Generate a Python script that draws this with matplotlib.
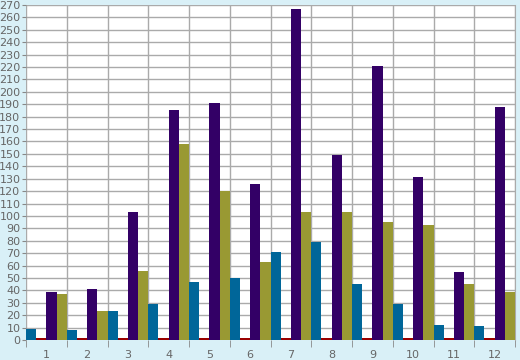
import matplotlib
matplotlib.use("Agg")
import matplotlib.pyplot as plt
import numpy as np

categories = ["1", "2", "3", "4", "5", "6", "7", "8", "9", "10", "11", "12"]
blue_vals = [9, 8, 23, 29, 47, 50, 71, 79, 45, 29, 12, 11]
red_vals = [1.5, 1.5, 1.5, 1.5, 1.5, 1.5, 1.5, 1.5, 1.5, 1.5, 1.5, 1.5]
purple_vals = [39, 41, 103, 185, 191, 126, 267, 149, 221, 131, 55, 188]
olive_vals = [37, 23, 56, 158, 120, 63, 103, 103, 95, 93, 45, 39]

bg = "#d9f0f7"
fig = plt.figure(figsize=(5.2, 3.6), dpi=100, facecolor=bg)
ax = fig.add_axes([26/520, 20/360, 489/520, 335/360])
ax.set_facecolor("white")

x = np.arange(1, len(categories) + 1)
w = 0.25
series = [(blue_vals, "#006699"), (red_vals, "#990000"),
          (purple_vals, "#330066"), (olive_vals, "#999933")]
for k, (vals, col) in enumerate(series):
    ax.bar(x + (k - 1.5) * w, vals, width=w, color=col, zorder=3, linewidth=0)

ax.set_xlim(0.5, len(categories) + 0.5)
ax.set_ylim(0, 270)
ax.set_yticks(np.arange(0, 271, 10))
ax.set_xticks(x)
ax.set_xticklabels(categories)
ax.set_xticks(np.arange(0.5, len(categories) + 1, 1), minor=True)

ax.grid(True, which="major", axis="y", color="#aaaaaa", linewidth=1, zorder=0)
ax.grid(True, which="minor", axis="x", color="#aaaaaa", linewidth=1, zorder=0)
ax.grid(False, which="major", axis="x")

for s in ["top", "left", "bottom"]:
    ax.spines[s].set_visible(False)
ax.spines["right"].set_color("#aaaaaa")

ax.tick_params(axis="y", which="major", length=3, color="#888888", labelcolor="#666666",
               labelsize=8, pad=1)
ax.tick_params(axis="x", which="major", length=0, labelcolor="#666666", labelsize=8, pad=7)
ax.tick_params(axis="x", which="minor", length=5, color="#888888", direction="out")

fig.savefig("out.png", dpi=100, facecolor=bg)
